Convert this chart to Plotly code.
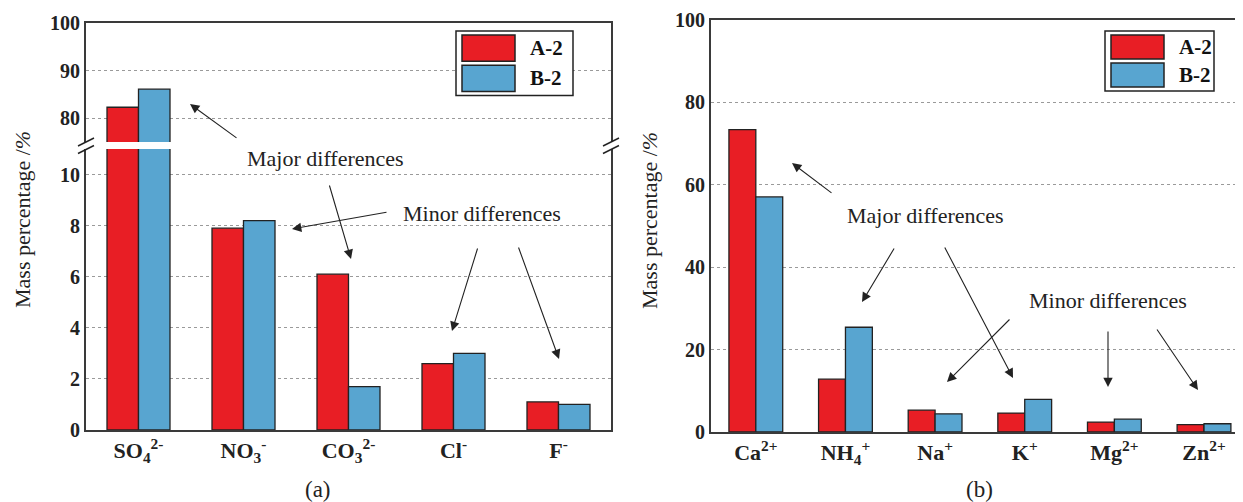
import plotly.graph_objects as go

# browser page has an 8px body margin: the figure is drawn 8px right and down
OFF = 8
W, H = 1243 - OFF, 502 - OFF

# ---------------- data ----------------
anions = ["SO<sub>4</sub><sup>2-</sup>", "NO<sub>3</sub><sup>-</sup>", "CO<sub>3</sub><sup>2-</sup>",
          "Cl<sup>-</sup>", "F<sup>-</sup>"]
anion_A2 = [82.3, 7.9, 6.1, 2.6, 1.1]
anion_B2 = [86.1, 8.2, 1.7, 3.0, 1.0]

cations = ["Ca<sup>2+</sup>", "NH<sub>4</sub><sup>+</sup>", "Na<sup>+</sup>", "K<sup>+</sup>",
           "Mg<sup>2+</sup>", "Zn<sup>2+</sup>"]
cation_A2 = [73.3, 12.8, 5.3, 4.6, 2.4, 1.8]
cation_B2 = [57.0, 25.4, 4.4, 7.9, 3.1, 2.0]

series_names = ["A-2", "B-2"]
lower_ticks = [0, 2, 4, 6, 8, 10]
upper_ticks = [80, 90, 100]
right_ticks = [0, 20, 40, 60, 80, 100]

RED = "#E81E25"
BLUE = "#58A5D0"
EDGE = "#222222"
AXC = "#3a3a3a"
SERIF = "Liberation Serif, Times New Roman, serif"


def px(x):
    return (x - OFF) / W


def py(y):
    return 1 - (y - OFF) / H


fig = go.Figure()

bar_line = dict(color=EDGE, width=1.3)
for xa, ya in [("x", "y"), ("x2", "y2")]:
    fig.add_trace(go.Bar(x=anions, y=anion_A2, name=series_names[0], marker=dict(color=RED, line=bar_line),
                         xaxis=xa, yaxis=ya, showlegend=False))
    fig.add_trace(go.Bar(x=anions, y=anion_B2, name=series_names[1], marker=dict(color=BLUE, line=bar_line),
                         xaxis=xa, yaxis=ya, showlegend=False))
fig.add_trace(go.Bar(x=cations, y=cation_A2, name=series_names[0], marker=dict(color=RED, line=bar_line),
                     xaxis="x3", yaxis="y3", showlegend=False))
fig.add_trace(go.Bar(x=cations, y=cation_B2, name=series_names[1], marker=dict(color=BLUE, line=bar_line),
                     xaxis="x3", yaxis="y3", showlegend=False))

tickfont = dict(family=SERIF, size=20, color="#222", weight="bold")
catfont = dict(family=SERIF, size=22, color="#222", weight="bold")
grid = dict(showgrid=True, gridcolor="#9a9a9a", gridwidth=1, griddash="3px,3px")
common = dict(automargin=False, fixedrange=True)

left_dom = [px(86), px(611)]
right_dom = [px(711), 1.0]

fig.update_layout(
    width=W, height=H,
    margin=dict(l=0, r=0, t=0, b=0, pad=0, autoexpand=False),
    paper_bgcolor="white", plot_bgcolor="white",
    barmode="group", bargap=0.4, bargroupgap=0.0,
    xaxis=dict(domain=left_dom, anchor="y", range=[-0.5, 4.5], showline=True, linecolor=AXC, linewidth=2,
               mirror=False, ticks="", tickfont=catfont, showgrid=False, **common),
    yaxis=dict(domain=[py(430), py(149)], anchor="x", range=[0, 11], tickvals=lower_ticks, showline=True,
               linecolor=AXC, linewidth=2, mirror=True, ticks="", tickfont=tickfont, zeroline=False,
               **grid, **common),
    xaxis2=dict(domain=left_dom, anchor="y2", range=[-0.5, 4.5], side="top", showline=True, linecolor=AXC,
                linewidth=2, showticklabels=False, ticks="", showgrid=False, **common),
    yaxis2=dict(domain=[py(142), py(23)], anchor="x2", range=[75, 100], tickvals=upper_ticks, showline=True,
                linecolor=AXC, linewidth=2, mirror=True, ticks="", tickfont=tickfont, zeroline=False,
                **grid, **common),
    xaxis3=dict(domain=right_dom, anchor="y3", range=[-0.5, 5.435], showline=True, linecolor=AXC, linewidth=2,
                mirror=True, ticks="", tickfont=catfont, showgrid=False, **common),
    yaxis3=dict(domain=[py(432), py(19.5)], anchor="x3", range=[0, 100], tickvals=right_ticks, showline=True,
                linecolor=AXC, linewidth=2, mirror=False, ticks="", tickfont=tickfont, zeroline=False,
                **grid, **common),
)

shapes = []
annotations = []


# legends (drawn as boxes)
def legend_box(x0, y0, x1, y1):
    shapes.append(dict(type="rect", xref="paper", yref="paper", x0=px(x0), x1=px(x1), y0=py(y0), y1=py(y1),
                       line=dict(color="#222", width=1.5), fillcolor="white", layer="above"))
    h = (y1 - y0)
    sw_x0, sw_x1 = x0 + 6, x0 + 6 + 53
    for i, (c, name) in enumerate([(RED, series_names[0]), (BLUE, series_names[1])]):
        ty0 = y0 + 4 + i * (h - 4) / 2
        ty1 = ty0 + (h - 4) / 2 - 4
        shapes.append(dict(type="rect", xref="paper", yref="paper", x0=px(sw_x0), x1=px(sw_x1), y0=py(ty1),
                           y1=py(ty0), line=dict(color="#222", width=1.5), fillcolor=c, layer="above"))
        annotations.append(dict(xref="paper", yref="paper", x=px(sw_x1 + 13), y=py((ty0 + ty1) / 2),
                                xanchor="left", yanchor="middle", showarrow=False, text=name,
                                font=dict(family=SERIF, size=21, color="#111", weight="bold")))


legend_box(456, 31, 573, 95.5)
legend_box(1105, 31, 1214, 91)

# axis-break marks on left chart
for xc in (86, 611):
    for yc in (142, 149.5):
        shapes.append(dict(type="line", xref="paper", yref="paper", x0=px(xc - 8), y0=py(yc + 4),
                           x1=px(xc + 8), y1=py(yc - 4), line=dict(color="#222", width=1.5), layer="above"))

fig.update_layout(shapes=shapes)


def text(x, y, s, size=22, **kw):
    annotations.append(dict(xref="paper", yref="paper", x=px(x), y=py(y), text=s, showarrow=False,
                            font=dict(family=SERIF, size=size, color="#222"), xanchor="center",
                            yanchor="middle", **kw))


def arrow(x0, y0, x1, y1):
    annotations.append(dict(xref="paper", yref="paper", x=px(x1), y=py(y1), ax=x0 - x1, ay=y0 - y1,
                            axref="pixel", ayref="pixel", text="", showarrow=True, arrowhead=2,
                            arrowsize=1.7, arrowwidth=1.1, arrowcolor="#222"))


# left chart annotations
text(326, 158, "Major differences")
arrow(238, 139, 190, 104)
arrow(329, 184, 351, 259)
text(482, 213, "Minor differences")
arrow(388, 212, 292, 229)
arrow(478, 247, 452, 331)
arrow(518, 246, 559, 359)

# right chart annotations
text(925, 215, "Major differences")
arrow(833, 194, 792, 163)
arrow(895, 247, 862, 302)
arrow(944, 246, 1013, 378)
text(1108, 300, "Minor differences")
arrow(1011, 318, 947, 382)
arrow(1108, 330, 1108, 387)
arrow(1156, 328, 1198, 390)

# y-axis titles
text(22, 220, "Mass percentage /<i>%</i>", size=22, textangle=-90)
text(649, 221, "Mass percentage /<i>%</i>", size=22, textangle=-90)

# captions
text(318, 489, "(a)", size=23)
text(979, 489, "(b)", size=23)

fig.update_layout(annotations=annotations)

fig.write_html("out.html")
